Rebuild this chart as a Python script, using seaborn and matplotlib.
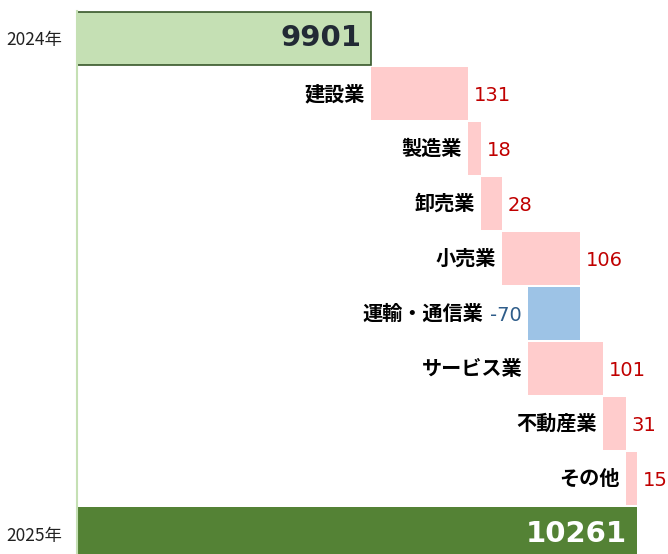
import matplotlib
matplotlib.use("Agg")
import matplotlib.pyplot as plt
import seaborn as sns
import pandas as pd
import numpy as np

# ---- data ----
start_label = "2024年"
end_label = "2025年"
start_value = 9901
end_value = 10261
categories = ["建設業", "製造業", "卸売業", "小売業", "運輸・通信業", "サービス業", "不動産業", "その他"]
changes = [131, 18, 28, 106, -70, 101, 31, 15]

sns.set_theme(style="white")
plt.rcParams['font.family'] = ['DejaVu Sans', 'Noto Sans CJK JP']

all_labels = [start_label] + categories + [end_label]
df_tot = pd.DataFrame({"label": [start_label, end_label], "value": [start_value, end_value]})

fig = plt.figure(figsize=(6.68, 5.54), dpi=100)
ax = fig.add_axes([77 / 668, -7 / 554, 591 / 668, 550 / 554])

BAR_W = 0.96
sns.barplot(data=df_tot, x="value", y="label", order=all_labels, hue="label",
            palette={start_label: "#C5E0B4", end_label: "#548235"},
            width=BAR_W, ax=ax, legend=False, saturation=1)
for p in ax.patches:
    p.set_linewidth(0)
# edge on the 2024 bar
for p in ax.patches:
    if abs(p.get_y() + p.get_height() / 2 - 0) < 0.1 and p.get_width() > 0:
        p.set_edgecolor("#38572A")
        p.set_linewidth(1.2)

# floating bars
running = start_value
pos_col, neg_col = "#FFCCCC", "#9DC3E6"
cat_font = dict(family=['Noto Sans CJK JP'], fontweight='bold', fontsize=14.5, color='black')
for i, (cat, ch) in enumerate(zip(categories, changes), start=1):
    left = running if ch >= 0 else running + ch
    ax.barh(i, abs(ch), left=left, height=BAR_W,
            color=pos_col if ch >= 0 else neg_col, linewidth=0)
    if ch >= 0:
        ax.annotate(f"{ch}", xy=(running + ch, i), xytext=(6, -2), textcoords="offset pixels",
                    ha="left", va="center", fontsize=14, color="#C00000")
        ax.annotate(cat, xy=(running, i), xytext=(-6, 0), textcoords="offset pixels",
                    ha="right", va="center", **cat_font)
    else:
        t = ax.annotate(f"{ch}", xy=(running + ch, i), xytext=(-7, -2), textcoords="offset pixels",
                        ha="right", va="center", fontsize=14, color="#2F5D8A")
        ax.annotate(cat, xy=(0, 0.5), xycoords=t, xytext=(-6, 2), textcoords="offset pixels",
                    ha="right", va="center", **cat_font)
    running += ch

# total value labels
ax.annotate(f"{start_value}", xy=(start_value, 0), xytext=(-10, 0), textcoords="offset pixels",
            ha="right", va="center", fontsize=21, fontweight="bold", color="#222A35")
ax.annotate(f"{end_value}", xy=(end_value, 9), xytext=(-10, 0), textcoords="offset pixels",
            ha="right", va="center", fontsize=21, fontweight="bold", color="white")

ax.set_xlim(9503, 10303)
ax.set_ylim(9.5, -0.5)
ax.set_xticks([])
ax.set_yticks([0, 9])
ax.set_yticklabels([start_label, end_label], family=['Noto Sans CJK JP'], fontsize=12.5, color="#222222")
ax.tick_params(axis="y", length=0, pad=11)
ax.set_xlabel("")
ax.set_ylabel("")
for s in ["top", "right", "bottom"]:
    ax.spines[s].set_visible(False)
ax.spines["left"].set_color("#C5E0B4")
ax.spines["left"].set_linewidth(1.5)

fig.savefig("out.png", dpi=100)
